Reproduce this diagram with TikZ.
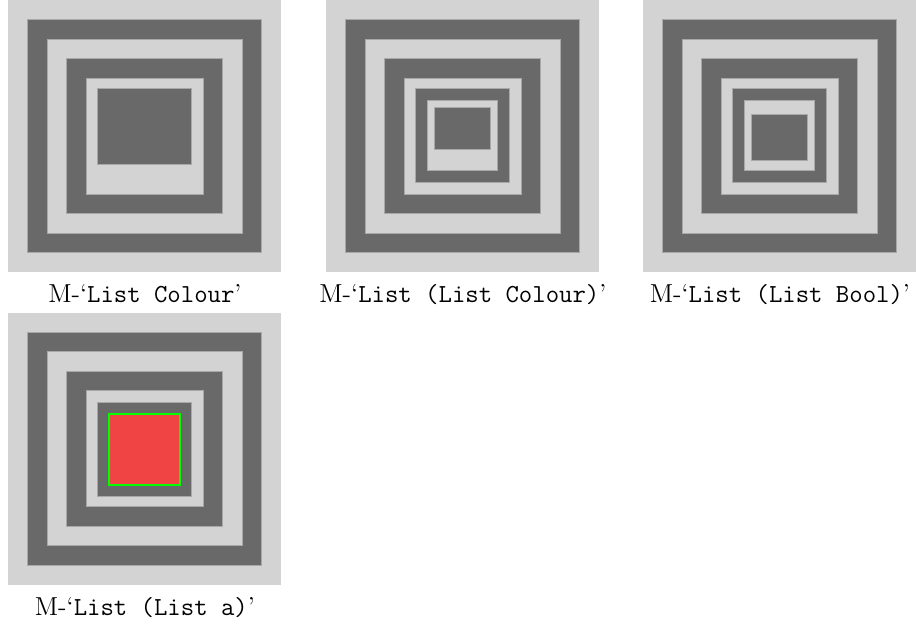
\documentclass[tikz,border=0pt]{standalone}
\usepackage{xcolor}
\usepackage{tikz}
\usetikzlibrary{positioning}

\definecolor{litegray}{RGB}{211,211,211}
\definecolor{dimgray}{RGB}{105,105,105}
\definecolor{rimgray}{RGB}{168,168,168}
\definecolor{softred}{RGB}{240,68,68}
\definecolor{limegreen}{RGB}{0,255,0}

\begin{document}
\begin{tikzpicture}[
  x=0.5pt, y=-0.5pt,
  panel/.style={fill=litegray, inner sep=0pt, minimum width=136.5pt, minimum height=136pt, anchor=north west},
  lt/.style={fill=litegray, draw=rimgray, line width=0.4pt},
  dk/.style={fill=dimgray, draw=rimgray, line width=0.4pt},
  hot/.style={fill=softred, draw=limegreen, line width=1pt},
  lbl/.style={font=\fontsize{13}{15}\selectfont, anchor=base, inner sep=0pt, yshift=-14.85pt},
]
  \useasboundingbox (0,0) rectangle (916,626);

  % outer squares, nested rings and captions
  \foreach \px/\py/\nm/\txt in {8/0/colour/List Colour, 326/0/lcolour/List (List Colour),
                                643/0/lbool/List (List Bool), 8/312.7/la/List (List a)} {
    \node[panel] (\nm) at (\px,\py) {};
    \foreach \k/\st in {1/dk,2/lt,3/dk,4/lt}
      \draw[\st] (\px+19.5*\k,\py+19.5*\k) rectangle (\px+273-19.5*\k,\py+272-19.5*\k);
    \node[lbl] (\nm lbl) at (\nm.south) {M-`\texttt{\txt}'};
  }

  % List Colour
  \draw[dk] (97.3,88.3) rectangle (191.3,164.3);

  % List (List Colour)
  \draw[dk] (415.5,88.3) rectangle (509.3,182.3);
  \draw[lt] (427.3,100) rectangle (497.7,170.3);
  \draw[dk] (434.3,107.3) rectangle (490.3,149.3);

  % List (List Bool)
  \draw[dk] (732.3,88.3) rectangle (826.3,182.3);
  \draw[lt] (744.3,100) rectangle (814.7,170.3);
  \draw[dk] (751,114) rectangle (807.7,160);

  % List (List a)
  \draw[dk] (97.3,402.7) rectangle (191.3,496);
  \draw[hot] (108.7,414) rectangle (180.3,485);
\end{tikzpicture}
\end{document}
